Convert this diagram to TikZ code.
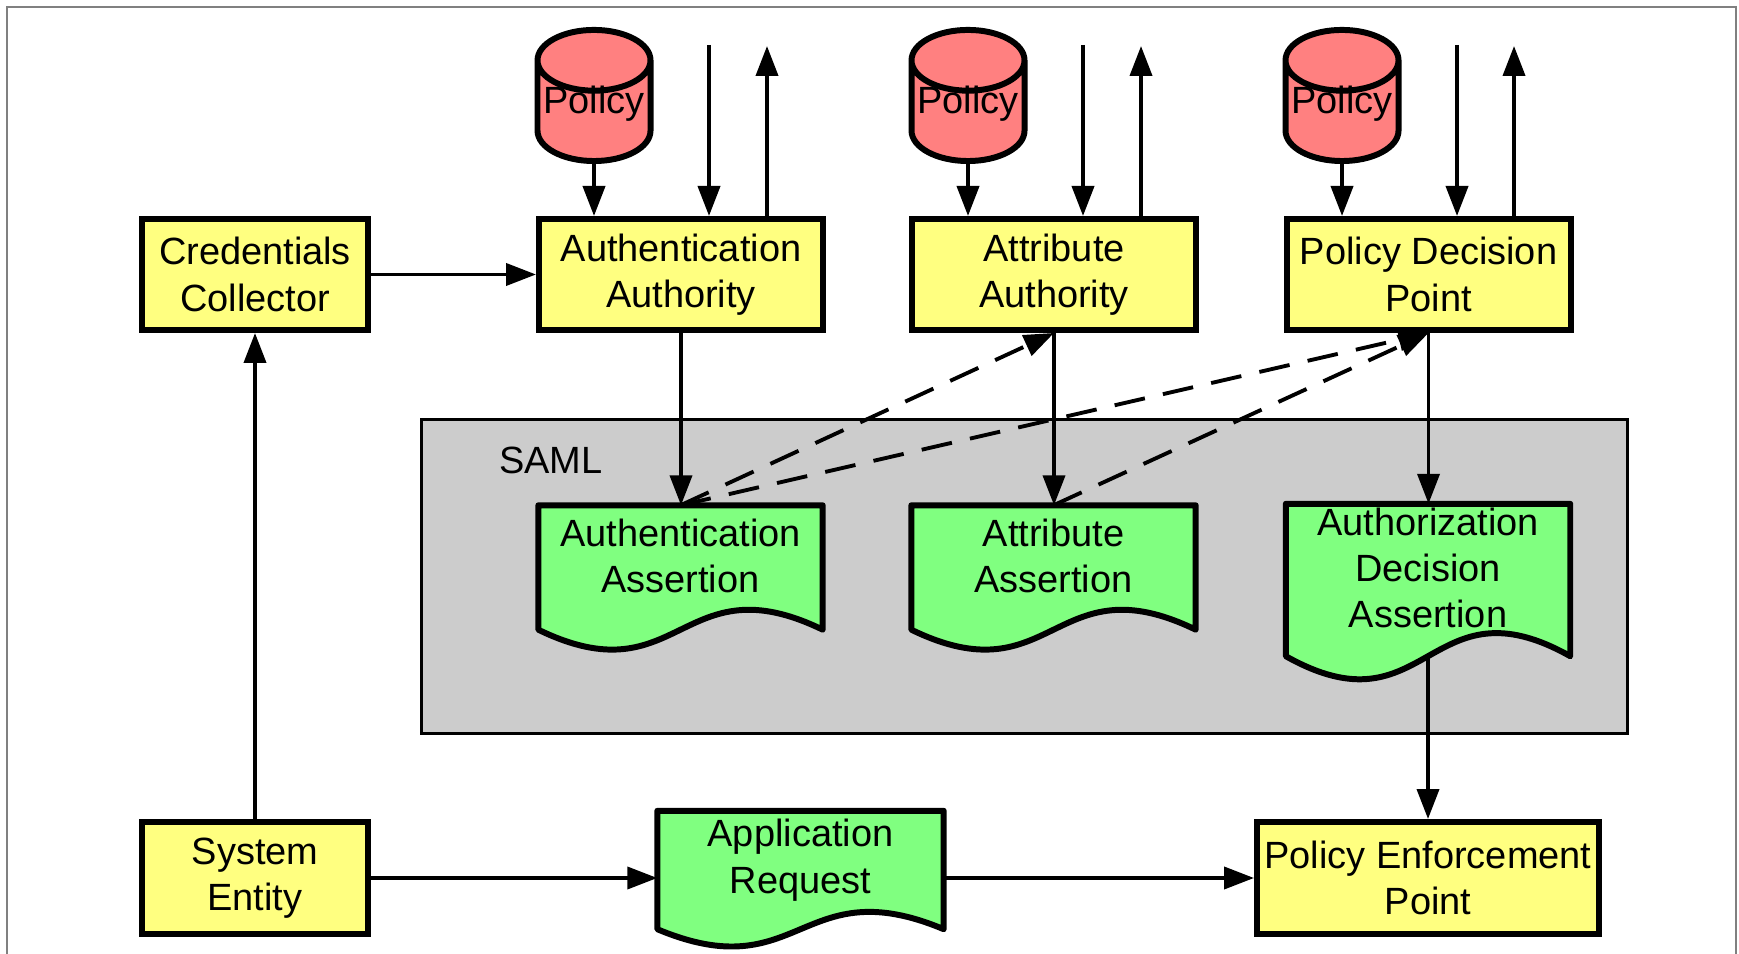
\documentclass[tikz,border=0pt]{standalone}
\usepackage{fontspec}
\setmainfont{Liberation Sans}
\usetikzlibrary{shapes.geometric,arrows.meta,calc}
\definecolor{boxyellow}{HTML}{FFFF80}
\definecolor{docgreen}{HTML}{80FF80}
\definecolor{dbred}{HTML}{FF8080}
\definecolor{samlgray}{HTML}{CCCCCC}
\pgfdeclarelayer{back}
\pgfdeclarelayer{docs}
\pgfsetlayers{back,docs,main}
% wavy document outline behind a node: #1 node, #2 drop below node, #3 wave
\newcommand{\docshape}[3]{%
  \begin{pgfonlayer}{docs}
    \draw[line width=1.7pt,fill=docgreen,line join=round] (#1.north west) -- (#1.north east)
      -- ($(#1.south east)+(0,-#2)$)
      .. controls ($(#1.south)+(0,-#2+#3)$) and ($(#1.south)+(0,-#2-#3)$) .. ($(#1.south west)+(0,-#2)$) -- cycle;
  \end{pgfonlayer}
  \coordinate (#1-b) at ($(#1.south)+(0,-#2)$);}
\begin{document}
\begin{tikzpicture}[every node/.style={font=\fontsize{10.8pt}{13.2pt}\selectfont,align=center,inner sep=0pt},
    box/.style={draw,rectangle,line width=1.7pt,fill=boxyellow,minimum height=1.11cm},
    doc/.style={rectangle,minimum width=2.83cm},
    policy/.style={draw,cylinder,shape border rotate=90,aspect=0.6,line width=1.7pt,fill=dbred,
      minimum width=1.13cm,minimum height=1.30cm,anchor=shape center,text height=0.20cm,text depth=0.17cm},
    arr/.style={line width=1.1pt,-{Triangle[length=3mm,width=2.2mm]}},
    dasharr/.style={arr,dash pattern=on 3.1mm off 1.85mm}]
  \useasboundingbox (0,0) rectangle (17.39,9.53);
  \draw[gray,line width=0.6pt] (0.07,9.46) rectangle (17.36,-0.3);
  % SAML area
  \begin{pgfonlayer}{back}
    \node [draw,rectangle,fill=samlgray,line width=0.8pt,minimum width=12.06cm,minimum height=3.14cm] (saml) at (10.2475,3.765) {};
  \end{pgfonlayer}
  \node (samllabel) at (5.51,4.93) {SAML};
  % authorities
  \node [box,minimum width=2.26cm] (cc) at (2.55,6.785) {Credentials\\Collector};
  \node [box,minimum width=2.84cm] (aa) at (6.81,6.785) {Authentication\\Authority};
  \node [box,minimum width=2.84cm] (ata) at (10.54,6.785) {Attribute\\Authority};
  \node [box,minimum width=2.84cm] (pdp) at (14.285,6.785) {Policy Decision\\Point};
  \node [policy] (pol1) at (5.94,8.575) {Policy};
  \node [policy] (pol2) at (9.68,8.575) {Policy};
  \node [policy] (pol3) at (13.42,8.575) {Policy};
  \coordinate (in1) at (7.09,9.08);
  \coordinate (out1) at (7.67,9.07);
  \coordinate (in2) at (10.83,9.08);
  \coordinate (out2) at (11.41,9.07);
  \coordinate (in3) at (14.57,9.08);
  \coordinate (out3) at (15.14,9.07);
  % assertions
  \node [doc,minimum height=1.00cm] (aas) at (6.805,3.97) {Authentication\\Assertion};
  \node [doc,minimum height=1.00cm] (atas) at (10.535,3.97) {Attribute\\Assertion};
  \node [doc,minimum height=1.27cm] (ada) at (14.28,3.85) {Authorization\\Decision\\Assertion};
  \docshape{aas}{0.23}{0.69}
  \docshape{atas}{0.23}{0.69}
  \docshape{ada}{0.24}{0.80}
  % bottom row
  \node [box,minimum width=2.26cm,minimum height=1.12cm] (se) at (2.55,0.75) {System\\Entity};
  \node [doc,minimum width=2.85cm,minimum height=0.97cm] (ar) at (8.005,0.93) {Application\\Request};
  \docshape{ar}{0.20}{0.6}
  \node [box,minimum width=3.42cm,minimum height=1.12cm] (pep) at (14.28,0.75) {Policy Enforcement\\Point};
  % connectors
  \draw[arr] (pol1) -- (pol1 |- aa.north);
  \draw[arr] (pol2) -- (pol2 |- ata.north);
  \draw[arr] (pol3) -- (pol3 |- pdp.north);
  \draw[arr] (in1) -- (in1 |- aa.north);
  \draw[arr] (out1 |- aa.north) -- (out1);
  \draw[arr] (in2) -- (in2 |- ata.north);
  \draw[arr] (out2 |- ata.north) -- (out2);
  \draw[arr] (in3) -- (in3 |- pdp.north);
  \draw[arr] (out3 |- pdp.north) -- (out3);
  \draw[arr] (cc) -- (aa);
  \draw[arr] (se) -- (cc);
  \draw[arr] (aa) -- (aa.south |- aas.north);
  \draw[arr] (ata) -- (ata.south |- atas.north);
  \draw[arr] (pdp) -- (pdp.south |- ada.north);
  \draw[dasharr] (aas.north) -- (ata.south);
  \draw[dasharr] (aas.north) -- (pdp.south);
  \draw[dasharr] (atas.north) -- (pdp.south);
  \draw[arr] (ada-b) -- (pep);
  \draw[arr] (se) -- (se -| ar.west);
  \draw[arr] (se -| ar.east) -- (pep);
\end{tikzpicture}
\end{document}
